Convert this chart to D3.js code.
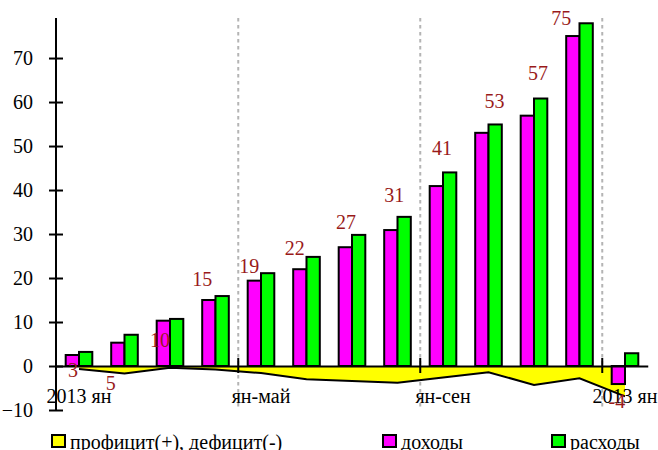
<!DOCTYPE html>
<html>
<head>
<meta charset="utf-8">
<script src="https://cdn.jsdelivr.net/npm/d3@7"></script>
<style>
  html, body { margin: 0; padding: 0; background: #fff; }
  svg { display: block; }
</style>
</head>
<body>
<div id="chart"></div>
<script>
// ---- data ----
const categories = ["2013-01","2013-02","2013-03","2013-04","2013-05","2013-06","2013-07","2013-08","2013-09","2013-10","2013-11","2013-12","2014-01"];
const incomes  = [2.5, 5.3, 10.3, 15.0, 19.4, 22.0, 27.0, 30.9, 40.9, 53.0, 56.9, 75.0, -4.1];   // доходы
const expenses = [3.2, 7.1, 10.7, 15.9, 21.1, 24.8, 29.8, 33.9, 44.0, 54.9, 60.8, 77.9, 2.9];    // расходы
const balance  = [-0.7, -1.7, -0.4, -0.8, -1.6, -3.0, -3.4, -3.8, -2.6, -1.4, -4.3, -2.8, -6.9]; // профицит/дефицит
const valueLabels = ["3","5","10","15","19","22","27","31","41","53","57","75","-4"];
const xTickLabels = ["2013 ян", "ян-май", "ян-сен", "2013 ян"];
const xTickIndex  = [0, 4, 8, 12];
const dividerIndex = [4, 8, 12];
const yTicks = [-10, 0, 10, 20, 30, 40, 50, 60, 70];
const seriesNames = ["профицит(+), дефицит(-)", "доходы", "расходы"];

// label anchors (value units) and horizontal shifts (fraction of band) as placed in the original
const labelAnchor = [-2.5, -5.5, 4.3, 18.2, 21.1, 25.2, 31.1, 37.3, 48.0, 58.6, 65.0, 77.5, -9.5];
const labelShift  = [-0.13, -0.30, -0.22, -0.29, -0.26, -0.26, -0.13, -0.07, -0.02, 0.13, 0.09, -0.40, -0.18];

// ---- layout ----
const W = 658, H = 450;
const FONT = '"Liberation Serif", "Times New Roman", Times, Tinos, "DejaVu Serif", serif';
const colors = { balance: "#ffff00", incomes: "#ff00ff", expenses: "#00ff00", label: "#991a1a" };

const svg = d3.select("#chart").append("svg").attr("width", W).attr("height", H);

const x = d3.scaleBand().domain(categories).range([56.25, 647.75]).padding(0);
const xs = d3.scaleBand().domain(["incomes","expenses"]).range([0, x.bandwidth()]).paddingInner(0).paddingOuter(0.71);
const y = d3.scaleLinear().domain([-10, 79.1]).range([410, 18]);
const cx = (i) => x(categories[i]) + x.bandwidth() / 2;

// dashed dividers
svg.append("g").selectAll("line").data(dividerIndex).join("line")
  .attr("x1", d => x(categories[d])).attr("x2", d => x(categories[d]))
  .attr("y1", y(79.1)).attr("y2", y(-10))
  .attr("stroke", "#b4b4b4").attr("stroke-width", 2).attr("stroke-dasharray", "3.5,3.5");

// balance area
const idx = d3.range(categories.length);
svg.append("path").datum(idx)
  .attr("d", d3.area().x(i => cx(i)).y0(y(0)).y1(i => y(balance[i])))
  .attr("fill", colors.balance);
svg.append("path").datum(idx)
  .attr("d", d3.line().x(i => cx(i)).y(i => y(balance[i])))
  .attr("fill", "none").attr("stroke", "#000").attr("stroke-width", 2);

// bars
const groups = svg.append("g").selectAll("g").data(idx).join("g")
  .attr("transform", i => `translate(${x(categories[i])},0)`);
groups.selectAll("rect").data(i => [
    {k: "incomes", v: incomes[i]},
    {k: "expenses", v: expenses[i]}
  ]).join("rect")
  .attr("x", d => xs(d.k)).attr("width", xs.bandwidth())
  .attr("y", d => y(Math.max(0, d.v))).attr("height", d => Math.abs(y(d.v) - y(0)))
  .attr("fill", d => colors[d.k]).attr("stroke", "#000").attr("stroke-width", 2);

// y axis
const yAxis = svg.append("g").attr("transform", "translate(56,0)")
  .call(d3.axisLeft(y).tickValues(yTicks).tickSize(7).tickPadding(16).tickFormat(d3.format("d")));
yAxis.select(".domain").remove();
yAxis.selectAll(".tick line").attr("x1", 7).attr("x2", -7).attr("stroke-width", 2);
yAxis.selectAll(".tick text").style("font-size", "20px").style("font-family", FONT).attr("fill", "#000");
yAxis.append("line").attr("x1", 0).attr("x2", 0).attr("y1", y(79.1)).attr("y2", y(-10))
  .attr("stroke", "#000").attr("stroke-width", 2);

// x axis
const xAxis = svg.append("g").attr("transform", `translate(0,${y(0)})`)
  .call(d3.axisBottom(x).tickValues(xTickIndex.map(i => categories[i])).tickSize(0).tickSizeOuter(0)
    .tickFormat(d => xTickLabels[xTickIndex.indexOf(categories.indexOf(d))]));
xAxis.select(".domain").attr("stroke-width", 2);
xAxis.selectAll(".tick text").attr("y", 37).attr("dy", null)
  .style("font-size", "20px").style("font-family", FONT).attr("fill", "#000");
xAxis.selectAll("line.divtick").data(dividerIndex).join("line").attr("class", "divtick")
  .attr("x1", d => x(categories[d])).attr("x2", d => x(categories[d]))
  .attr("y1", -8).attr("y2", 7).attr("stroke", "#000").attr("stroke-width", 2);

// value labels
svg.append("g").selectAll("text").data(idx).join("text")
  .attr("x", i => cx(i) + labelShift[i] * x.bandwidth())
  .attr("y", i => y(labelAnchor[i]))
  .attr("text-anchor", "middle")
  .style("font-size", "20px").style("font-family", FONT).attr("fill", colors.label)
  .text(i => valueLabels[i]);

// legend
const legendItems = [
  {name: seriesNames[0], color: colors.balance, x: 52},
  {name: seriesNames[1], color: colors.incomes, x: 383},
  {name: seriesNames[2], color: colors.expenses, x: 552}
];
const lg = svg.append("g").selectAll("g").data(legendItems).join("g")
  .attr("transform", d => `translate(${d.x},435)`);
lg.append("rect").attr("width", 13).attr("height", 12)
  .attr("fill", d => d.color).attr("stroke", "#000").attr("stroke-width", 2);
lg.append("text").attr("x", 18).attr("y", 13.5).attr("fill", "#000")
  .style("font-size", "20px").style("font-family", FONT)
  .text(d => d.name);
</script>
</body>
</html>
